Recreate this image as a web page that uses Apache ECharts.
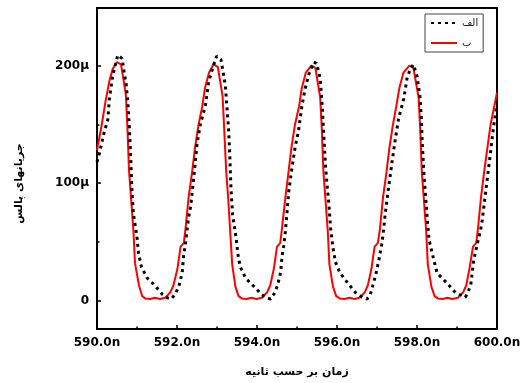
<!DOCTYPE html>
<html>
<head>
<meta charset="utf-8">
<script src="https://cdn.jsdelivr.net/npm/echarts@6/dist/echarts.min.js"></script>
<style>
html,body{margin:0;padding:0;background:#fff;}
#chart{width:524px;height:383px;}
</style>
</head>
<body>
<div id="chart"></div>
<script>
// ---- data (time in ns, current in µA units) ----
const seriesNames = ['الف', 'ب'];
const xTickLabels = [590, 592, 594, 596, 598, 600];
const yTickLabels = [0, 100, 200];
const yMinorTicks = [50, 150];

const blackTime = [590.00,590.05,590.11,590.17,590.27,590.31,590.39,590.52,590.63,590.68,590.73,590.77,590.81,590.84,590.87,590.91,591.00,591.04,591.11,591.25,591.46,591.63,591.76,591.86,591.96,592.05,592.13,592.17,592.21,592.25,592.29,592.34,592.42,592.50,592.58,592.71,592.79,592.91,592.99,
593.10,593.16,593.21,593.24,593.29,593.32,593.35,593.39,593.48,593.52,593.58,593.72,593.93,594.11,594.24,594.34,594.43,594.51,594.59,594.63,594.67,594.71,594.75,594.79,594.87,594.95,595.04,595.12,595.20,595.29,595.42,
595.49,595.58,595.63,595.67,595.71,595.75,595.79,595.84,595.90,595.96,596.07,596.27,596.46,596.63,596.75,596.83,596.96,597.04,597.13,597.21,597.30,597.38,597.46,597.54,597.67,597.75,597.83,597.91,
598.00,598.07,598.11,598.13,598.17,598.21,598.26,598.30,598.38,598.50,598.75,598.96,599.21,599.34,599.42,599.50,599.59,599.63,599.71,599.75,599.83,599.87,599.91,599.95,600.00];
const blackCurrent = [118,124,133,142,154,172,191,209,206,194,184,169,147,124,96,74,54,40,29,19.5,12.6,5.6,2.5,1.5,6,12.6,24,40,47.5,60,71,80,105,133,149.5,166,186,200,208,
205,193,183,168,146,123,95,73,53,40,29,19,12,5.5,2.5,1.5,6,12.6,24,39,47,59,75,92,112,130,145,165,180,192,203,
202,189,166,141,116,99,85,62,45,33,24,15,7,3,1.5,5,21,33.5,50,75,99,119,138,155,172,189,197,201,
191,175,155,135,110,91,68.5,52,40.5,23.7,15,7,3,12.6,35,47.5,60,68.5,91,102,124,135.5,147,156.5,166];

const redTime = [590.00,590.11,590.21,590.31,590.39,590.50,590.60,590.72,590.76,590.80,590.85,590.91,590.95,591.05,591.13,591.21,591.33,591.45,591.58,591.70,591.83,591.91,592.01,592.09,592.17,592.21,592.29,592.38,592.45,592.54,592.63,592.70,592.80,592.91,
593.02,593.14,593.18,593.23,593.28,593.33,593.38,593.46,593.54,593.62,593.74,593.86,593.99,594.12,594.25,594.33,594.42,594.50,594.58,594.62,594.71,594.79,594.86,594.95,595.05,595.12,595.22,595.36,
595.46,595.58,595.62,595.66,595.71,595.77,595.81,595.90,595.98,596.07,596.19,596.31,596.44,596.56,596.69,596.77,596.86,596.94,597.02,597.07,597.15,597.24,597.31,597.40,597.48,597.56,597.66,597.81,
597.91,598.04,598.08,598.12,598.17,598.23,598.27,598.36,598.44,598.52,598.64,598.76,598.88,599.02,599.15,599.23,599.31,599.40,599.48,599.52,599.60,599.68,599.76,599.84,599.93,600.00];
const redCurrent = [128,148,169,187,197,203,201,176,148,111,88,60,32,13,4,2,1.5,2.5,1.5,2.5,7,13,27,46,49,60,88,110,130,150,165,181,194,201,
199,174,146,110,87,59,31,12,4,2,1.5,2.5,1.5,2.5,7,13,27,46,49,60,88,110,130,150,165,181,194,200,
198,173,146,110,87,59,31,12,4,2,1.5,2.5,1.5,2.5,7,13,27,46,49,60,88,110,130,150,165,181,194,200,
198,173,146,110,87,59,31,12,4,2,1.5,2.5,1.5,2.5,7,13,27,46,49,60,88,110,130,150,165,177];

const xTitle = 'زمان بر حسب ثانیه';
const yTitle = 'جریانهای پالس';

// ---- chart ----
const chart = echarts.init(document.getElementById('chart'), null, {renderer: 'canvas'});
const FONT = 'DejaVu Sans';
const blackData = blackTime.map((t, i) => [t, blackCurrent[i]]);
const redData = redTime.map((t, i) => [t, redCurrent[i]]);

chart.setOption({
  animation: false,
  backgroundColor: '#fff',
  grid: {left: 97, right: 27, top: 8, bottom: 50, show: true, borderColor: '#000', borderWidth: 2, backgroundColor: 'transparent'},
  legend: {
    orient: 'vertical',
    left: 425, top: 14,
    data: seriesNames,
    itemWidth: 26, itemHeight: 12, itemGap: 10,
    padding: [4, 5, 4, 5],
    borderColor: '#444', borderWidth: 1,
    backgroundColor: '#fff',
    itemStyle: {opacity: 0},
    textStyle: {fontFamily: FONT, fontSize: 10, color: '#222'}
  },
  xAxis: {
    type: 'value', min: 590, max: 600, interval: 2,
    name: xTitle, nameLocation: 'middle', nameGap: 38,
    nameTextStyle: {fontFamily: FONT, fontSize: 11, fontWeight: 'bold', color: '#000'},
    axisLine: {show: true, onZero: false, lineStyle: {color: '#000', width: 2}},
    axisTick: {show: true, inside: true, length: 4, lineStyle: {color: '#000', width: 1.5}},
    minorTick: {show: true, splitNumber: 2, length: 2.5, lineStyle: {color: '#000', width: 1.5}},
    axisLabel: {
      show: true, margin: 8, showMinLabel: true, showMaxLabel: true,
      fontFamily: FONT, fontSize: 12, fontWeight: 'bold', color: '#000',
      customValues: xTickLabels,
      formatter: v => v.toFixed(1) + 'n'
    },
    splitLine: {show: false}
  },
  yAxis: [{
    type: 'value', min: -24, max: 249,
    name: yTitle, nameLocation: 'middle', nameGap: 72, nameRotate: 90,
    nameTextStyle: {fontFamily: FONT, fontSize: 11, fontWeight: 'bold', color: '#000', padding: [0, 30, 0, 0]},
    axisLine: {show: true, onZero: false, lineStyle: {color: '#000', width: 2}},
    axisTick: {show: true, inside: true, length: 4, customValues: yTickLabels, lineStyle: {color: '#000', width: 1.5}},
    axisLabel: {
      show: true, margin: 8,
      fontFamily: FONT, fontSize: 12, fontWeight: 'bold', color: '#000',
      customValues: yTickLabels,
      formatter: v => v === 0 ? '0' : v + 'μ'
    },
    splitLine: {show: false}
  }, {
    type: 'value', min: -24, max: 249, position: 'left',
    axisLine: {show: false},
    axisTick: {show: true, inside: true, length: 2.5, customValues: yMinorTicks, lineStyle: {color: '#000', width: 1.5}},
    axisLabel: {show: false},
    splitLine: {show: false}
  }],
  series: [{
    name: seriesNames[1], type: 'line', data: redData,
    yAxisIndex: 0,
    showSymbol: false, symbol: 'none', smooth: false,
    lineStyle: {color: '#ff0000', width: 2},
    itemStyle: {color: '#ff0000'},
    z: 2
  }, {
    name: seriesNames[0], type: 'line', data: blackData,
    yAxisIndex: 0,
    showSymbol: false, symbol: 'none', smooth: false,
    lineStyle: {color: '#000', width: 3, type: [3, 4]},
    itemStyle: {color: '#000'},
    z: 3
  }]
});
</script>
</body>
</html>
